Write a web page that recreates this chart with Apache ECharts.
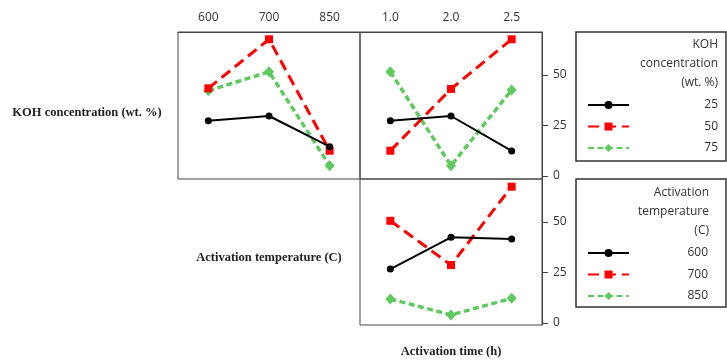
<!DOCTYPE html>
<html>
<head>
<meta charset="utf-8">
<script src="https://cdn.jsdelivr.net/npm/echarts@6/dist/echarts.min.js"></script>
<style>html,body{margin:0;padding:0;background:#fff}#c{width:727px;height:362px}</style>
</head>
<body>
<div id="c"></div>
<script>
// categories
const tempCats = ['600', '700', '850'];
const timeCats = ['1.0', '2.0', '2.5'];
const kohNames = ['25', '50', '75'];
const tempNames = ['600', '700', '850'];
const yTicks = [0, 25, 50];
// KOH concentration lines vs activation temperature
const koh25VsTemp = [27.4, 29.7, 14.5];
const koh50VsTemp = [43.4, 67.7, 12.5];
const koh75VsTemp = [42.2, 51.6, 5.1];
// KOH concentration lines vs activation time
const koh25VsTime = [27.4, 29.7, 12.4];
const koh50VsTime = [12.5, 43.1, 67.7];
const koh75VsTime = [51.6, 5.1, 42.6];
// Activation temperature lines vs activation time
const t600VsTime = [26.7, 42.4, 41.6];
const t700VsTime = [50.6, 28.7, 67.5];
const t850VsTime = [11.9, 4.0, 12.2];

const BORDER = '#444';
const TXT = '#333';
const styles = [
  {symbol: 'circle', symbolSize: 7, color: '#000', lineStyle: {width: 2, type: 'solid', color: '#000'}},
  {symbol: 'rect', symbolSize: 8, color: '#ff0000', lineStyle: {width: 3, type: [11, 6], color: '#ff0000'}},
  {symbol: 'diamond', symbolSize: [10, 11], color: '#5fc95f', lineStyle: {width: 3.5, type: [6, 3.5], color: '#5fc95f'}}
];
function mk(name, data, idx, k) {
  const s = styles[k];
  return {
    type: 'line', name: name, data: data, xAxisIndex: idx, yAxisIndex: idx,
    symbol: s.symbol, symbolSize: s.symbolSize, showSymbol: true,
    itemStyle: {color: s.color}, lineStyle: s.lineStyle, animation: false, z: 3 + (2 - k)
  };
}
const gridBox = {show: true, borderColor: BORDER, borderWidth: 1, backgroundColor: 'transparent'};
const labelFont = {color: TXT, fontSize: 12, fontFamily: 'Open Sans'};

const chart = echarts.init(document.getElementById('c'), null, {renderer: 'canvas'});
chart.setOption({
  animation: false,
  backgroundColor: '#fff',
  grid: [
    Object.assign({left: 178, top: 32, width: 182, height: 147}, gridBox),
    Object.assign({left: 360, top: 32, width: 182, height: 147}, gridBox),
    Object.assign({left: 360, top: 179, width: 182, height: 146}, gridBox)
  ],
  xAxis: [
    {type: 'category', gridIndex: 0, data: tempCats, position: 'top', boundaryGap: true,
      axisLine: {onZero: false, lineStyle: {color: BORDER, width: 1}}, axisTick: {alignWithLabel: true, length: 6, lineStyle: {color: BORDER}},
      axisLabel: Object.assign({margin: 8}, labelFont), splitLine: {show: false}},
    {type: 'category', gridIndex: 1, data: timeCats, position: 'top', boundaryGap: true,
      axisLine: {onZero: false, lineStyle: {color: BORDER, width: 1}}, axisTick: {alignWithLabel: true, length: 6, lineStyle: {color: BORDER}},
      axisLabel: Object.assign({margin: 8}, labelFont), splitLine: {show: false}},
    {type: 'category', gridIndex: 2, data: timeCats, position: 'bottom', boundaryGap: true,
      axisLine: {show: false, onZero: false}, axisTick: {show: false}, axisLabel: {show: false}, splitLine: {show: false}}
  ],
  yAxis: [
    {type: 'value', gridIndex: 0, min: -1.5, max: 71.3, axisLine: {show: false, onZero: false}, axisTick: {show: false},
      axisLabel: {show: false}, splitLine: {show: false}},
    {type: 'value', gridIndex: 1, min: -1.5, max: 71.3, position: 'right',
      axisLine: {show: true, onZero: false, lineStyle: {color: BORDER, width: 1}},
      axisTick: {show: true, customValues: yTicks, length: 6, lineStyle: {color: BORDER}},
      axisLabel: Object.assign({customValues: yTicks, margin: 11}, labelFont), splitLine: {show: false}},
    {type: 'value', gridIndex: 2, min: -1, max: 71.3, position: 'right',
      axisLine: {show: true, onZero: false, lineStyle: {color: BORDER, width: 1}},
      axisTick: {show: true, customValues: yTicks, length: 6, lineStyle: {color: BORDER}},
      axisLabel: Object.assign({customValues: yTicks, margin: 11}, labelFont), splitLine: {show: false}}
  ],
  legend: [
    {data: kohNames, orient: 'vertical', left: 582, top: 94, itemWidth: 41, itemHeight: 10, itemGap: 9.5,
      selectedMode: false, formatter: '{a|{name}}',
      textStyle: {rich: {a: {width: 84, height: 12, lineHeight: 12, align: 'right', color: TXT, fontSize: 12, fontFamily: 'Open Sans'}}}},
    {data: tempNames, orient: 'vertical', left: 582, top: 242, itemWidth: 41, itemHeight: 10, itemGap: 9.5,
      selectedMode: false, formatter: '{a|{name}}',
      textStyle: {rich: {a: {width: 74, height: 12, lineHeight: 12, align: 'right', color: TXT, fontSize: 12, fontFamily: 'Open Sans'}}}}
  ],
  graphic: [
    {type: 'rect', shape: {x: 576, y: 32, width: 150, height: 129}, style: {fill: 'none', stroke: '#333', lineWidth: 1.5}, silent: true},
    {type: 'rect', shape: {x: 576, y: 179, width: 150, height: 128}, style: {fill: 'none', stroke: '#333', lineWidth: 1.5}, silent: true},
    {type: 'text', x: 718, y: 45, style: {text: 'KOH', align: 'right', verticalAlign: 'middle', fill: TXT, font: '12px "Open Sans"'}},
    {type: 'text', x: 718, y: 64, style: {text: 'concentration', align: 'right', verticalAlign: 'middle', fill: TXT, font: '12px "Open Sans"'}},
    {type: 'text', x: 718, y: 83, style: {text: '(wt. %)', align: 'right', verticalAlign: 'middle', fill: TXT, font: '12px "Open Sans"'}},
    {type: 'text', x: 709, y: 193, style: {text: 'Activation', align: 'right', verticalAlign: 'middle', fill: TXT, font: '12px "Open Sans"'}},
    {type: 'text', x: 709, y: 212, style: {text: 'temperature', align: 'right', verticalAlign: 'middle', fill: TXT, font: '12px "Open Sans"'}},
    {type: 'text', x: 709, y: 231, style: {text: '(C)', align: 'right', verticalAlign: 'middle', fill: TXT, font: '12px "Open Sans"'}},
    {type: 'text', x: 87, y: 113, style: {text: 'KOH concentration (wt. %)', align: 'center', verticalAlign: 'middle', fill: '#222', font: 'bold 12.5px "Liberation Serif"'}},
    {type: 'text', x: 269, y: 258, style: {text: 'Activation temperature (C)', align: 'center', verticalAlign: 'middle', fill: '#222', font: 'bold 12.5px "Liberation Serif"'}},
    {type: 'text', x: 451, y: 352, style: {text: 'Activation time (h)', align: 'center', verticalAlign: 'middle', fill: '#222', font: 'bold 12.5px "Liberation Serif"'}}
  ],
  series: [
    mk(kohNames[0], koh25VsTemp, 0, 0),
    mk(kohNames[1], koh50VsTemp, 0, 1),
    mk(kohNames[2], koh75VsTemp, 0, 2),
    mk(kohNames[0], koh25VsTime, 1, 0),
    mk(kohNames[1], koh50VsTime, 1, 1),
    mk(kohNames[2], koh75VsTime, 1, 2),
    mk(tempNames[0], t600VsTime, 2, 0),
    mk(tempNames[1], t700VsTime, 2, 1),
    mk(tempNames[2], t850VsTime, 2, 2)
  ]
});
</script>
</body>
</html>
